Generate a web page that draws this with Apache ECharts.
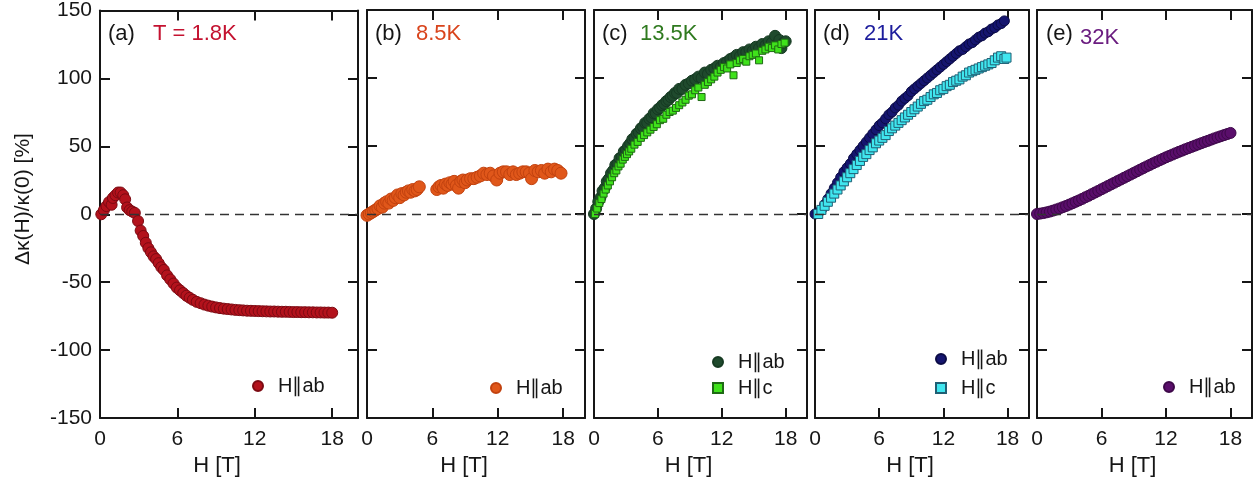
<!doctype html>
<html>
<head>
<meta charset="utf-8">
<title>Δκ(H)/κ(0) vs H</title>
<style>html, body { margin: 0; padding: 0; background: #fff; }</style>
</head>
<body>
<div id="chart" style="width: 1260px; height: 483px;"></div>
<script src="https://cdn.jsdelivr.net/npm/echarts@6/dist/echarts.min.js"></script>
<script>
// values: [H (T), Δκ/κ0 (%)]
const ab18K = [[0.1,0],[0.3,3],[0.5,6],[0.7,9],[0.9,7],[1.0,12],[1.2,14],[1.4,16],[1.6,16],[1.8,14],[1.95,11],[2.1,5],[2.3,3],[2.5,2],[2.7,1],[2.95,-5],[3.15,-12],[3.35,-16],[3.55,-21],[3.75,-25],[3.95,-28],[4.15,-31],[4.35,-33],[4.55,-36],[4.75,-39],[4.95,-41],[5.2,-45],[5.45,-48],[5.7,-51],[5.95,-54],[6.2,-56],[6.45,-58],[6.7,-60],[6.95,-61.5],[7.2,-63],[7.5,-64.5],[7.8,-65.5],[8.1,-66.5],[8.4,-67.3],[8.7,-68],[9.0,-68.6],[9.3,-69.1],[9.6,-69.5],[9.9,-69.8],[10.2,-70.1],[10.5,-70.4],[10.8,-70.6],[11.1,-70.8],[11.4,-71],[11.7,-71.1],[12.0,-71.2],[12.3,-71.3],[12.6,-71.4],[12.9,-71.5],[13.2,-71.6],[13.5,-71.6],[13.8,-71.7],[14.1,-71.8],[14.4,-71.8],[14.7,-71.9],[15.0,-72],[15.3,-72],[15.6,-72.1],[15.9,-72.1],[16.2,-72.2],[16.5,-72.2],[16.8,-72.3],[17.1,-72.3],[17.4,-72.4],[17.7,-72.4],[18.0,-72.5]];

const ab85K = [[0,-1],[0.2,0],[0.4,1],[0.6,2],[0.8,3],[1.0,4],[1.2,6],[1.4,5],[1.6,8],[1.8,9],[2.0,8],[2.2,11],[2.4,10],[2.6,12],[2.8,14],[3.0,12],[3.2,15],[3.4,14],[3.6,16],[3.8,17],[4.0,16],[4.2,18],[4.4,17],[4.6,18],[4.8,20],[6.4,18],[6.6,20],[6.8,21],[7.0,19],[7.2,22],[7.4,21],[7.6,23],[7.8,22],[8.0,24],[8.2,21],[8.4,19],[8.6,24],[8.8,25],[9.0,23],[9.2,25],[9.5,26],[9.8,26],[10.1,27],[10.4,28],[10.7,30],[11.0,29],[11.3,30],[11.6,28],[11.9,25],[12.2,30],[12.5,31],[12.8,31],[13.1,29],[13.4,31],[13.7,29],[14.0,30],[14.3,31],[14.6,31],[14.9,30],[15.1,26],[15.4,32],[15.7,31],[16.0,32],[16.3,30],[16.6,33],[16.9,31],[17.2,33],[17.5,32],[17.8,30]];

const ab135K = [[0,0],[0.2,4],[0.4,9],[0.6,12],[0.8,17],[1.0,19],[1.2,24],[1.4,26],[1.6,30],[1.8,32],[2.0,36],[2.2,37],[2.4,41],[2.6,42],[2.8,46],[3.0,47],[3.2,50],[3.4,52],[3.6,55],[3.8,56],[4.0,59],[4.2,60],[4.4,63],[4.6,64],[4.8,67],[5.0,67],[5.2,70],[5.4,71],[5.6,74],[5.8,74],[6.0,77],[6.2,78],[6.4,80],[6.6,81],[6.8,83],[7.0,84],[7.2,86],[7.4,87],[7.6,89],[7.8,89],[8.0,92],[8.3,92],[8.6,95],[8.9,96],[9.2,98],[9.5,99],[9.8,101],[10.1,100],[10.4,104],[10.7,103],[11.0,106],[11.3,107],[11.6,109],[11.9,108],[12.2,111],[12.5,112],[12.8,114],[13.1,115],[13.4,117],[13.7,116],[14.0,119],[14.3,119],[14.6,121],[14.9,120],[15.2,123],[15.5,122],[15.8,125],[16.1,124],[16.4,127],[16.7,126],[17.0,131],[17.2,124],[17.4,128],[17.6,122],[17.8,126],[18.0,127]];
const c135K = [[0.1,0],[0.3,4],[0.5,8],[0.7,11],[0.9,15],[1.1,18],[1.3,21],[1.5,24],[1.7,27],[1.9,30],[2.1,32],[2.3,35],[2.5,37],[2.7,40],[2.9,42],[3.1,44],[3.3,46],[3.5,48],[3.8,51],[4.1,53],[4.4,56],[4.7,58],[5.0,60],[5.3,62],[5.6,64],[5.9,66],[6.2,69],[6.5,70],[6.8,73],[7.1,75],[7.4,76],[7.7,78],[8.0,80],[8.3,82],[8.6,84],[8.9,87],[9.2,88],[9.5,91],[9.8,93],[10.1,86],[10.4,95],[10.7,97],[11.0,99],[11.3,101],[11.6,104],[11.9,106],[12.2,108],[12.5,107],[12.8,110],[13.1,102],[13.4,111],[13.7,113],[14.0,114],[14.3,112],[14.6,116],[14.9,117],[15.2,118],[15.5,113],[15.8,120],[16.1,121],[16.4,123],[16.7,122],[17.0,124],[17.3,121],[17.6,125],[17.9,126]];

const ab21K = [[0,0],[0.3,1],[0.6,3],[0.9,7],[1.2,11],[1.5,15],[1.8,19],[2.1,23],[2.4,27],[2.7,31],[3.0,34],[3.3,37],[3.6,41],[3.9,44],[4.2,47],[4.5,50],[4.8,53],[5.1,56],[5.4,59],[5.7,62],[6.0,65],[6.3,67],[6.6,70],[6.9,73],[7.2,75],[7.5,78],[7.8,80],[8.1,83],[8.4,85],[8.7,87],[9.0,90],[9.3,92],[9.6,94],[9.9,96],[10.2,98],[10.5,100],[10.8,102],[11.1,104],[11.4,106],[11.7,108],[12.0,110],[12.3,112],[12.6,114],[12.9,116],[13.2,118],[13.5,120],[13.8,121],[14.1,123],[14.4,125],[14.7,126],[15.0,128],[15.3,130],[15.6,131],[15.9,133],[16.2,134],[16.5,136],[16.8,137],[17.1,139],[17.4,140],[17.7,142]];
const c21K = [[0.3,0],[0.6,3],[0.9,6],[1.2,9],[1.5,12],[1.8,15],[2.1,18],[2.4,21],[2.7,24],[3.0,27],[3.3,30],[3.6,33],[3.9,36],[4.2,39],[4.5,42],[4.8,44],[5.1,47],[5.4,49],[5.7,52],[6.0,54],[6.3,56],[6.6,58],[6.9,61],[7.2,63],[7.5,65],[7.8,67],[8.1,69],[8.4,71],[8.7,73],[9.0,75],[9.3,77],[9.6,79],[9.9,81],[10.2,83],[10.5,84],[10.8,86],[11.1,88],[11.4,89],[11.7,91],[12.0,92],[12.3,94],[12.6,95],[12.9,97],[13.2,98],[13.5,99],[13.8,101],[14.1,102],[14.4,104],[14.7,105],[15.0,106],[15.3,107],[15.6,108],[15.9,109],[16.2,110],[16.5,111],[16.8,113],[17.1,115],[17.4,116],[17.7,114],[17.9,115]];

const ab32K = [[0,0],[0.3,0.3],[0.6,0.7],[0.9,1.2],[1.2,1.8],[1.5,2.5],[1.8,3.3],[2.1,4.1],[2.4,5],[2.7,5.9],[3.0,6.9],[3.3,7.9],[3.6,9],[3.9,10],[4.2,11.1],[4.5,12.3],[4.8,13.4],[5.1,14.6],[5.4,15.8],[5.7,17],[6.0,18.2],[6.3,19.4],[6.6,20.6],[6.9,21.8],[7.2,23],[7.5,24.2],[7.8,25.4],[8.1,26.6],[8.4,27.8],[8.7,29],[9.0,30.2],[9.3,31.4],[9.6,32.6],[9.9,33.8],[10.2,35],[10.5,36.1],[10.8,37.3],[11.1,38.4],[11.4,39.5],[11.7,40.6],[12.0,41.7],[12.3,42.7],[12.6,43.7],[12.9,44.7],[13.2,45.7],[13.5,46.6],[13.8,47.6],[14.1,48.5],[14.4,49.4],[14.7,50.3],[15.0,51.2],[15.3,52.1],[15.6,53],[15.9,53.8],[16.2,54.7],[16.5,55.6],[16.8,56.4],[17.1,57.2],[17.4,58],[17.7,58.8],[18.0,59.6]];

const panelTags = ['(a)', '(b)', '(c)', '(d)', '(e)'];
const tempLabels = ['T = 1.8K', '8.5K', '13.5K', '21K', '32K'];
const xTicks = [0, 20, 6];      // min, max, step
const yTicks = [-150, 150, 50];

const FONT = 'Liberation Sans, Arial, Helvetica, sans-serif';
const INK = '#161616';

const grids = [
	{ left: 100, top: 10, width: 258, height: 408 },
	{ left: 367, top: 10, width: 218, height: 408 },
	{ left: 594, top: 10, width: 213, height: 408 },
	{ left: 815, top: 10, width: 214, height: 408 },
	{ left: 1037, top: 10, width: 215, height: 408 }
];

const frameLine = { onZero: false, lineStyle: { color: INK, width: 2 } };
const innerTick = { inside: true, length: 10, lineStyle: { color: INK, width: 2 } };

let xAxis = [], yAxis = [];
grids.forEach((g, i) => {
	xAxis.push({
		gridIndex: i, type: 'value', position: 'bottom',
		min: xTicks[0], max: xTicks[1], interval: xTicks[2],
		axisLine: frameLine, axisTick: innerTick, splitLine: { show: false },
		axisLabel: { fontSize: 21, fontFamily: FONT, color: INK, margin: 11, showMaxLabel: false },
		name: 'H [T]', nameLocation: 'middle', nameGap: 33,
		nameTextStyle: { fontSize: 22, fontFamily: FONT, color: INK, padding: [0, 24, 0, 0] }
	});
	xAxis.push({
		gridIndex: i, type: 'value', position: 'top',
		min: xTicks[0], max: xTicks[1], interval: xTicks[2],
		axisLine: frameLine, axisTick: innerTick, splitLine: { show: false },
		axisLabel: { show: false }
	});
	yAxis.push({
		gridIndex: i, type: 'value', position: 'left',
		min: yTicks[0], max: yTicks[1], interval: yTicks[2],
		axisLine: frameLine, axisTick: innerTick, splitLine: { show: false },
		axisLabel: { show: i === 0, fontSize: 21, fontFamily: FONT, color: INK, margin: 8 }
	});
	yAxis.push({
		gridIndex: i, type: 'value', position: 'right',
		min: yTicks[0], max: yTicks[1], interval: yTicks[2],
		axisLine: frameLine, axisTick: innerTick, splitLine: { show: false },
		axisLabel: { show: false }
	});
});

const zeroLine = {
	silent: true, symbol: 'none', label: { show: false },
	lineStyle: { type: [9, 6], color: '#333', width: 1.3 },
	data: [{ yAxis: 0 }]
};

function dots(name, panel, data, fill, edge, shape, size) {
	return {
		name: name, type: 'scatter',
		xAxisIndex: panel * 2, yAxisIndex: panel * 2,
		data: data, symbol: shape, symbolSize: size,
		itemStyle: { color: fill, borderColor: edge, borderWidth: 1, opacity: 1 }
	};
}

let series = [
	dots('a-ab', 0, ab18K, '#b3121c', '#7c0a12', 'circle', 11),
	dots('b-ab', 1, ab85K, '#e0571a', '#c2420f', 'circle', 12),
	dots('c-ab', 2, ab135K, '#1f4a2d', '#163a22', 'circle', 11),
	dots('c-c', 2, c135K, '#3fe21b', '#1e6a14', 'rect', 7),
	dots('d-ab', 3, ab21K, '#15156f', '#0b0b45', 'circle', 10),
	dots('d-c', 3, c21K, '#40e6ef', '#1f5f74', 'rect', 9),
	dots('e-ab', 4, ab32K, '#5a0e6b', '#3d0849', 'circle', 11)
];
// dashed zero line, once per panel
[0, 1, 2, 4, 6].forEach(s => { series[s].markLine = zeroLine; });

const legendSpots = [
	{ left: 252, top: 376, data: ['a-ab'] },
	{ left: 490, top: 378, data: ['b-ab'] },
	{ left: 712, top: 352, data: ['c-ab', 'c-c'], itemGap: 6 },
	{ left: 935, top: 349, data: ['d-ab', 'd-c'], itemGap: 9 },
	{ left: 1163, top: 377, data: ['e-ab'] }
];
const legend = legendSpots.map(l => ({
	left: l.left, top: l.top, data: l.data, orient: 'vertical',
	padding: 0, itemGap: l.itemGap || 10, itemWidth: 10, itemHeight: 10,
	selectedMode: false,
	formatter: n => 'H\u2225' + n.split('-')[1],
	textStyle: { fontSize: 20, fontFamily: FONT, color: INK, padding: [0, 0, 0, 10] }
}));

const tagX = [108, 375, 602, 823, 1046];
const tempX = [153, 416, 640, 864, 1080];
const tempY = [34, 34, 34, 34, 38];
const tempColors = ['#c41230', '#d9441c', '#2f7a1f', '#1c1c9c', '#6b1d80'];

let graphic = [{
	type: 'text', x: 23, y: 199, rotation: Math.PI / 2,
	style: { text: 'Δκ(H)/κ(0) [%]', fontSize: 21, fontFamily: FONT, fill: INK, align: 'center', verticalAlign: 'middle' }
}];
panelTags.forEach((t, i) => {
	graphic.push({ type: 'text', x: tagX[i], y: 34,
		style: { text: t, fontSize: 22, fontFamily: FONT, fill: INK, verticalAlign: 'middle' } });
	graphic.push({ type: 'text', x: tempX[i], y: tempY[i],
		style: { text: tempLabels[i], fontSize: 22, fontFamily: FONT, fill: tempColors[i], verticalAlign: 'middle' } });
});

let chart = echarts.init(document.getElementById('chart'), null, { width: 1260, height: 483 });
chart.setOption({
	animation: false,
	backgroundColor: '#fff',
	grid: grids,
	xAxis: xAxis,
	yAxis: yAxis,
	legend: legend,
	series: series,
	graphic: graphic
});
</script>
</body>
</html>
